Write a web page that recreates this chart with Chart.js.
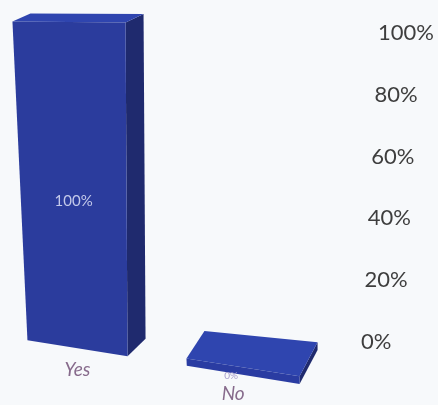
<!DOCTYPE html>
<html>
<head>
<meta charset="utf-8">
<script src="https://cdn.jsdelivr.net/npm/chart.js@4.4.1/dist/chart.umd.min.js"></script>
<style>
  html, body { margin: 0; padding: 0; background: #f7f9fb; }
  #wrap { width: 438px; height: 405px; position: relative; }
</style>
</head>
<body>
<div id="wrap"><canvas id="chart"></canvas></div>
<script>
// Survey answers and their shares
const categories = ['Yes', 'No'];
const shares = [100, 0];

// Percentage scale on the right
const tickValues = [0, 20, 40, 60, 80, 100];
const tickLabels = ['0%', '20%', '40%', '60%', '80%', '100%'];

// Look of the 3D blocks
const frontColor = '#2b3c9d';
const topColor = '#2f45af';
const sideColor = '#1f2a6e';
const rimColor = '#2a3ca2';
const depthX = 18;        // horizontal depth of each block
const shearLeft = 15;     // perspective lean of the left edge
const shearRight = 2;     // perspective lean of the right edge
const floorTilt = 0.16;   // floor slopes down towards the right
const minSlab = 7;        // a zero value still shows a thin slab

function poly(ctx, pts, color) {
  ctx.beginPath();
  ctx.moveTo(pts[0][0], pts[0][1]);
  for (let i = 1; i < pts.length; i++) ctx.lineTo(pts[i][0], pts[i][1]);
  ctx.closePath();
  ctx.fillStyle = color;
  ctx.fill();
}

const block3d = {
  id: 'block3d',
  afterDatasetsDraw(chart) {
    const ctx = chart.ctx;
    const xs = chart.scales.x;
    const ys = chart.scales.y;
    const yTop = ys.getPixelForValue(ys.max);
    const yBase = ys.getPixelForValue(0);
    const x0 = xs.getPixelForValue(0);
    const span = yBase - yTop;
    const meta = chart.getDatasetMeta(0);

    ctx.save();
    meta.data.forEach((bar, i) => {
      const { x, y, base, width } = bar.getProps(['x', 'y', 'base', 'width'], true);
      const L = x - width / 2;
      const R = x + width / 2;
      const top = Math.min(y, base - minSlab);

      const proj = (px, py) => {
        const f = (px - L) / (R - L);
        const t = (py - top) / span;
        const X = px + t * (shearLeft * (1 - f) + shearRight * f);
        const Y = py + floorTilt * (py / yBase) * (X - x0);
        return [X, Y];
      };
      const back = ([X, Y]) => {
        const dy = Math.min(34, 8 + 0.16 * Math.max(0, X - x0) * (Y / yBase));
        return [X + depthX, Y - dy];
      };

      const ftl = proj(L, top), ftr = proj(R, top);
      const fbr = proj(R, base), fbl = proj(L, base);
      const btl = back(ftl), btr = back(ftr), bbr = back(fbr);

      const isSlab = y >= base - minSlab;
      poly(ctx, [ftr, btr, bbr, fbr], sideColor);
      poly(ctx, [ftl, ftr, btr, btl], topColor);
      poly(ctx, [ftl, ftr, fbr, fbl], isSlab ? rimColor : frontColor);

      // value label on the block
      const v = shares[i];
      const lp = proj(x, y + (base - y) * 0.55);
      ctx.textAlign = 'center';
      ctx.textBaseline = 'middle';
      ctx.fillStyle = v > 0 ? '#c3c9ea' : '#a79dcc';
      ctx.font = (v > 0 ? '15px' : '10px') + ' Lato, "Open Sans", sans-serif';
      ctx.fillText(v + '%', lp[0] - (v > 0 ? 0 : 12), lp[1] + (v > 0 ? 0 : 1));

      // category name under the block
      const cp = proj(x, base);
      ctx.fillStyle = '#876b8c';
      ctx.font = 'italic 19px Lato, "Open Sans", sans-serif';
      ctx.fillText(categories[i], cp[0] - (v > 0 ? 0 : 10), cp[1] + (v > 0 ? 22 : 19));
    });

    // percentage labels, leaning with the perspective
    const ls = chart.scales.yLabels;
    ctx.textAlign = 'left';
    ctx.textBaseline = 'middle';
    ctx.fillStyle = '#3e3e3e';
    ctx.font = '22px Lato, "Open Sans", sans-serif';
    tickValues.forEach((v, k) => {
      const py = ls.getPixelForValue(v);
      const px = chart.width - 77 + 0.17 * v;
      ctx.fillText(tickLabels[k], px, py);
    });
    ctx.restore();
  }
};

new Chart(document.getElementById('chart'), {
  type: 'bar',
  data: {
    labels: categories,
    datasets: [{
      data: shares,
      backgroundColor: 'rgba(0,0,0,0)',
      borderWidth: 0,
      categoryPercentage: 1,
      barPercentage: 0.65
    }]
  },
  options: {
    responsive: true,
    maintainAspectRatio: false,
    animation: false,
    layout: { padding: { left: 69, right: 195, top: 22, bottom: 58 } },
    plugins: { legend: { display: false }, tooltip: { enabled: false } },
    scales: {
      x: { type: 'category', offset: false, display: false },
      y: { min: 0, max: 100, display: false },
      yLabels: {
        type: 'linear', position: 'right', display: false,
        min: -1.62, max: 103.56,
        ticks: { stepSize: 20, includeBounds: false }
      }
    }
  },
  plugins: [block3d]
});
</script>
</body>
</html>
